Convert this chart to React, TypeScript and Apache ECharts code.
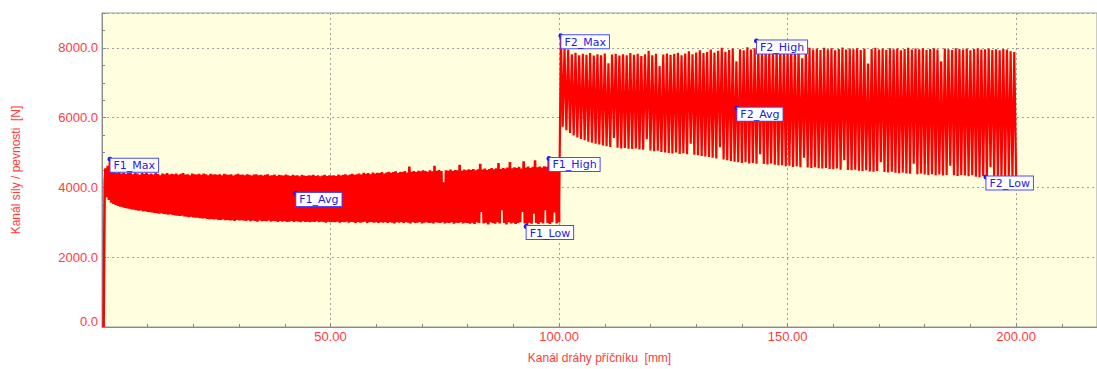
import React, { useEffect, useRef } from "react";
import * as echarts from "echarts";

// ---- data ----
// initial ramp (mm, N)
const rampX = [0.35, 0.45, 0.6];
const rampY = [0, 1800, 4200];

// Segment F1: oscillation, peaks at F1_START + i*F1_STEP, troughs half a step later
const F1_START = 0.75;
const F1_STEP = 0.5;
const f1Peaks = [
  4550, 4620, 4810, 4460, 4430, 4410, 4440, 4400, 4420, 4390,
  4410, 4430, 4380, 4420, 4400, 4360, 4410, 4390, 4420, 4380,
  4400, 4370, 4410, 4390, 4350, 4400, 4380, 4410, 4370, 4390,
  4380, 4400, 4360, 4390, 4410, 4370, 4380, 4350, 4400, 4380,
  4370, 4390, 4360, 4400, 4380, 4350, 4390, 4370, 4380, 4360,
  4380, 4350, 4390, 4370, 4360, 4380, 4340, 4370, 4390, 4360,
  4370, 4350, 4380, 4360, 4340, 4370, 4380, 4350, 4360, 4340,
  4360, 4380, 4340, 4350, 4370, 4330, 4360, 4350, 4340, 4370,
  4350, 4330, 4360, 4340, 4350, 4320, 4360, 4340, 4330, 4350,
  4340, 4360, 4330, 4350, 4320, 4340, 4360, 4330, 4350, 4340,
  4350, 4330, 4370, 4340, 4360, 4380, 4350, 4370, 4390, 4360,
  4380, 4400, 4370, 4420, 4390, 4410, 4380, 4430, 4400, 4420,
  4410, 4440, 4400, 4430, 4450, 4420, 4440, 4460, 4410, 4450,
  4440, 4470, 4430, 4600, 4450, 4470, 4440, 4480, 4460, 4490,
  4470, 4450, 4490, 4460, 4620, 4480, 4500, 4470, 4150, 4490,
  4480, 4510, 4470, 4500, 4490, 4650, 4480, 4510, 4490, 4520,
  4500, 4530, 4490, 4520, 4680, 4510, 4540, 4500, 4530, 4560,
  4520, 4550, 4700, 4530, 4560, 4540, 4570, 4730, 4550, 4580,
  4560, 4590, 4540, 4750, 4570, 4600, 4560, 4590, 4780, 4580,
  4600, 4570, 4610, 4590, 4830, 4600, 4620, 4580, 4700,
];
const f1Troughs = [
  3720, 3640, 3560, 3530, 3500, 3470, 3450, 3430, 3410, 3400,
  3390, 3370, 3360, 3350, 3330, 3340, 3310, 3320, 3300, 3290,
  3280, 3270, 3260, 3250, 3260, 3240, 3230, 3220, 3230, 3210,
  3200, 3190, 3180, 3190, 3170, 3160, 3150, 3160, 3140, 3130,
  3130, 3120, 3110, 3120, 3100, 3090, 3100, 3080, 3090, 3070,
  3070, 3080, 3060, 3070, 3050, 3060, 3040, 3070, 3050, 3060,
  3050, 3040, 3060, 3030, 3050, 3040, 3020, 3050, 3030, 3040,
  3030, 3050, 3020, 3040, 3030, 3010, 3040, 3020, 3030, 3010,
  3020, 3040, 3010, 3030, 3020, 3000, 3030, 3010, 3020, 3000,
  3020, 3010, 3030, 3000, 3020, 3010, 2990, 3020, 3000, 3010,
  3000, 3020, 2990, 3010, 3000, 3020, 2990, 3010, 3000, 2980,
  3010, 2990, 3000, 3020, 2980, 3000, 3010, 2990, 3000, 2980,
  3000, 2990, 3010, 2980, 3000, 2990, 2970, 3000, 2990, 3010,
  2980, 3000, 2990, 2970, 3000, 2980, 2990, 3010, 2970, 2990,
  3000, 2980, 2990, 2970, 3000, 2990, 2980, 3000, 2970, 2990,
  2980, 3000, 2960, 2990, 2980, 3000, 2970, 2990, 2980, 2960,
  2990, 2950, 3000, 2980, 3300, 2970, 2990, 2940, 3000, 2980,
  2960, 3000, 2970, 3350, 2980, 2940, 3000, 2970, 2990, 2950,
  2980, 3000, 3300, 2970, 2880, 2990, 2960, 3250, 2980, 2950,
  3000, 2970, 3350, 2980, 2950, 3000, 3280, 2970, 3000,
];

// Segment F2
const F2_START = 100.4;
const F2_STEP = 0.8;
const f2Peaks = [
  8330, 7980, 7950, 7820, 7860, 7790, 7830, 7800, 7850, 7780,
  7820, 7790, 7840, 7560, 7810, 7830, 7780, 7820, 7790, 7850,
  7800, 7830, 7770, 7820, 7920, 7790, 7830, 7480, 7810, 7840,
  7800, 7830, 7860, 7790, 7840, 7900, 7820, 7870, 7930, 7850,
  7880, 7950, 7870, 7920, 8000, 7890, 7940, 7980, 7620, 7960,
  7930, 8020, 7950, 7990, 8030, 7960, 8000, 7940, 7990, 8010,
  7950, 7990, 7970, 8020, 7940, 7980, 7700, 7960, 8000, 7950,
  7980, 7940, 8000, 7960, 7990, 7930, 7970, 8010, 7950, 7980,
  7960, 7990, 7940, 7980, 7550, 7970, 8000, 7950, 7980, 7940,
  7990, 7960, 7980, 7930, 7970, 8000, 7950, 7980, 7960, 7990,
  7940, 7970, 7990, 7950, 7620, 7980, 7960, 7940, 7990, 7970,
  7950, 7980, 7930, 7970, 7990, 7950, 7960, 7980, 7940, 7960,
  7930, 7970, 7950, 7900, 7880,
];
const f2Troughs = [
  5740, 5640, 5560, 5490, 5430, 5390, 5350, 5310, 5280, 5250,
  5230, 5200, 5180, 5160, 5420, 5140, 5120, 5130, 5110, 5100,
  5120, 5090, 5080, 5380, 5060, 5040, 5050, 5020, 5000, 4990,
  4970, 5000, 4960, 4980, 4950, 5250, 4940, 4920, 4900, 4890,
  4870, 4850, 4830, 5150, 4800, 4780, 4760, 4740, 4720, 4700,
  4720, 4690, 4700, 4680, 4950, 4670, 4660, 4690, 4650, 4640,
  4640, 4610, 4620, 4590, 4610, 4580, 4850, 4570, 4560, 4580,
  4550, 4540, 4560, 4530, 4520, 4540, 4510, 4780, 4500, 4490,
  4510, 4480, 4470, 4490, 4460, 4450, 4470, 4720, 4440, 4430,
  4450, 4420, 4410, 4430, 4400, 4390, 4680, 4380, 4400, 4370,
  4360, 4380, 4350, 4370, 4340, 4360, 4620, 4350, 4330, 4360,
  4340, 4320, 4350, 4310, 4290, 4330, 4300, 4580, 4310, 4320,
  4300, 4330, 4310, 4290, 4320,
];

// Labelled markers
const markerNames = ["F1_Max", "F1_Avg", "F1_High", "F1_Low", "F2_Max", "F2_High", "F2_Avg", "F2_Low"];
const markerX = [1.75, 42.4, 97.8, 92.8, 100.4, 143.2, 138.9, 193.4];
const markerY = [4810, 3830, 4830, 2880, 8345, 8200, 6270, 4300];

// Axes
const X_MIN = 0;
const X_MAX = 217.7;
const X_INTERVAL = 50;
const Y_MIN = 0;
const Y_MAX = 9000;
const Y_INTERVAL = 2000;

const X_NAME = "Kanál dráhy příčníku  [mm]";
const Y_NAME = "Kanál síly / pevnosti  [N]";

const RED_TEXT = "#ff3b3b";
const FONT = "'Liberation Sans', Arial, sans-serif";
const LABEL_FONT = "'DejaVu Sans', Verdana, sans-serif";

export default function App() {
  const ref = useRef<HTMLDivElement>(null);

  useEffect(() => {
    if (!ref.current) return;
    const chart = echarts.init(ref.current, undefined, { renderer: "svg" });

    const seg1: number[][] = [];
    rampX.forEach((x, i) => seg1.push([x, rampY[i]]));
    f1Peaks.forEach((p, i) => {
      const x = F1_START + i * F1_STEP;
      seg1.push([x, p]);
      if (i < f1Troughs.length) seg1.push([x + F1_STEP / 2, f1Troughs[i]]);
    });

    const seg2: number[][] = [seg1[seg1.length - 1]];
    f2Peaks.forEach((p, i) => {
      const x = F2_START + i * F2_STEP;
      seg2.push([x, p]);
      if (i < f2Troughs.length) seg2.push([x + F2_STEP / 2, f2Troughs[i]]);
    });

    const markers = markerNames.map((n, i) => ({ name: n, value: [markerX[i], markerY[i]] }));

    const gridLine = { show: true, lineStyle: { color: "#a0a0a0", width: 1, type: [2, 3] as any } };

    chart.setOption({
      animation: false,
      backgroundColor: "#ffffff",
      grid: {
        left: 102,
        right: -2,
        top: 13,
        bottom: 34,
        show: true,
        backgroundColor: "#ffffe0",
        borderColor: "#9a9a9a",
        borderWidth: 1,
      },
      xAxis: {
        type: "value",
        min: X_MIN,
        max: X_MAX,
        interval: X_INTERVAL,
        name: X_NAME,
        nameLocation: "middle",
        nameGap: 25,
        nameTextStyle: { color: RED_TEXT, fontSize: 12, fontFamily: FONT },
        axisLine: { show: true, lineStyle: { color: "#8a8a8a" } },
        axisTick: { show: true, inside: true, length: 4, lineStyle: { color: "#8a8a8a" } },
        minorTick: { show: true, splitNumber: 5, length: 3, lineStyle: { color: "#8a8a8a" } },
        axisLabel: {
          color: RED_TEXT,
          fontSize: 13,
          fontFamily: FONT,
          margin: 3,
          showMinLabel: false,
          showMaxLabel: false,
          formatter: (v: number) => v.toFixed(2),
        },
        splitLine: gridLine,
      },
      yAxis: {
        type: "value",
        min: Y_MIN,
        max: Y_MAX,
        interval: Y_INTERVAL,
        name: Y_NAME,
        nameLocation: "middle",
        nameGap: 80,
        nameTextStyle: { color: RED_TEXT, fontSize: 12, fontFamily: FONT },
        axisLine: { show: true, lineStyle: { color: "#8a8a8a" } },
        axisTick: { show: true, inside: true, length: 4, lineStyle: { color: "#8a8a8a" } },
        minorTick: { show: true, splitNumber: 4, length: 3, lineStyle: { color: "#8a8a8a" } },
        axisLabel: {
          color: RED_TEXT,
          fontSize: 13,
          fontFamily: FONT,
          margin: 4,
          showMaxLabel: false,
          formatter: (v: number) => (v === 0 ? "{z|0.0}" : v.toFixed(1)),
          rich: {
            z: { color: RED_TEXT, fontSize: 13, fontFamily: FONT, padding: [0, 0, 11, 0] },
          },
        },
        splitLine: gridLine,
      },
      series: [
        {
          type: "line",
          data: seg1,
          showSymbol: false,
          silent: true,
          lineStyle: { color: "#ff0000", width: 2.6, join: "miter" },
          z: 2,
        },
        {
          type: "line",
          data: seg2,
          showSymbol: false,
          silent: true,
          lineStyle: { color: "#ff0000", width: 2.2, join: "miter" },
          z: 2,
        },
        {
          type: "scatter",
          data: markers,
          symbol: "circle",
          symbolSize: 5,
          itemStyle: { color: "#1515ff", opacity: 1 },
          z: 5,
          label: {
            show: true,
            opacity: 1,
            formatter: (p: any) => p.name,
            position: [3, 2],
            align: "left",
            verticalAlign: "top",
            color: "#2020e8",
            fontSize: 11,
            fontFamily: LABEL_FONT,
            lineHeight: 12,
            backgroundColor: "#ffffff",
            borderColor: "#4a4aff",
            borderWidth: 1,
            padding: [1, 3, 0, 3],
          },
        },
      ],
    });

    return () => chart.dispose();
  }, []);

  return (
    <div
      ref={ref}
      style={{ position: "fixed", left: 0, top: 0, width: 1097, height: 369 }}
    />
  );
}
